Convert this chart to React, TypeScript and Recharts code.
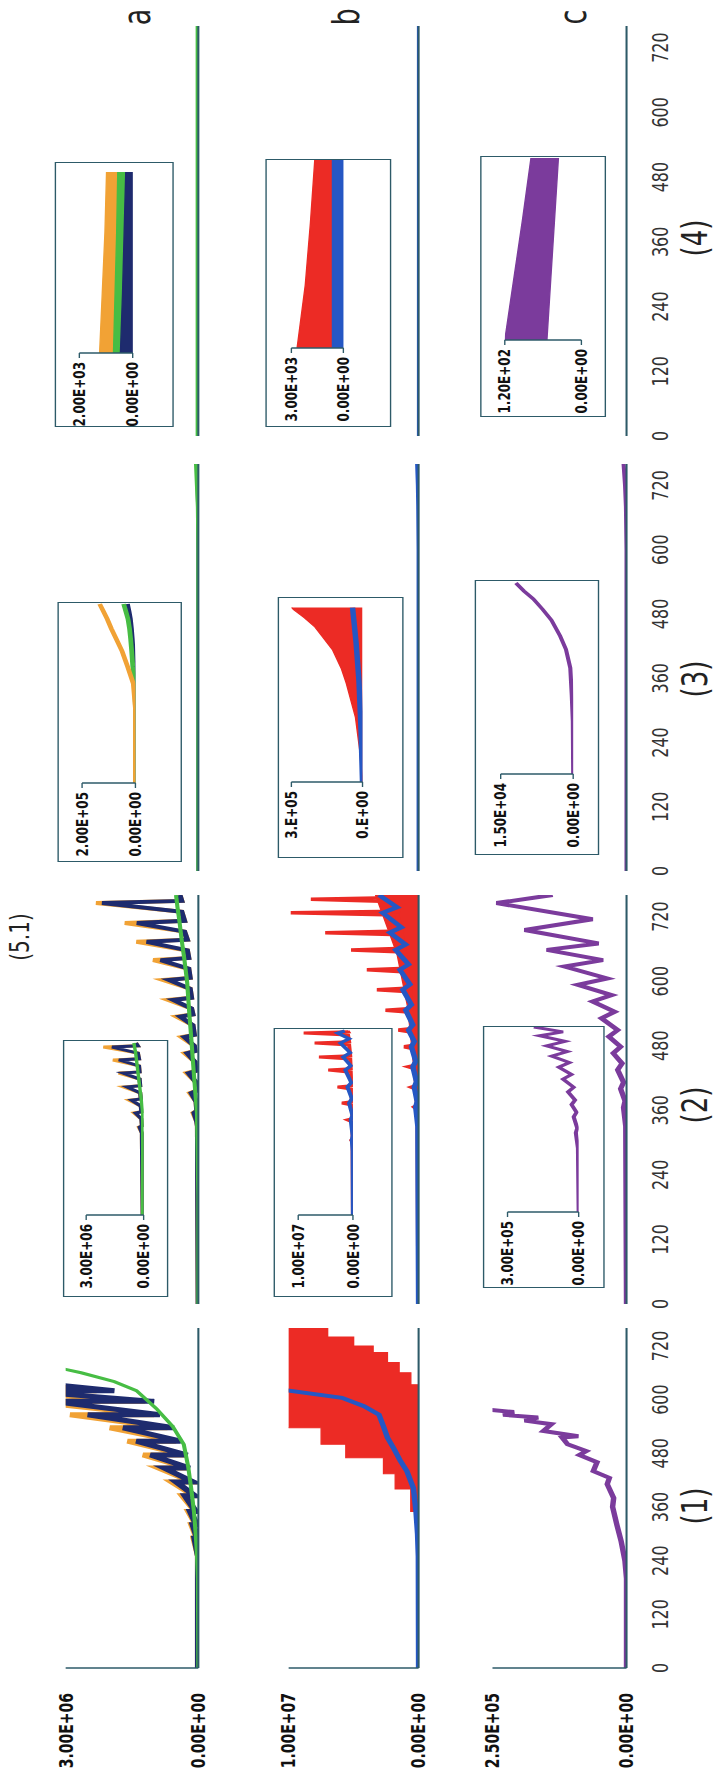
import React from "react";
import { ComposedChart, Line, Area, XAxis, YAxis } from "recharts";

const FONT = "DejaVu Sans, sans-serif";
const AXIS = "#2d5a68";
const GREEN = "#47bd44";
const ORANGE = "#f1a235";
const NAVY = "#1e2b6e";
const RED = "#ec2b25";
const BLUE = "#2557c4";
const PURPLE = "#7b3b9c";

// the figure is laid out landscape, stretched across its short side, then turned
const STRETCH = 1.368;

const TIME_TICKS = [0, 120, 240, 360, 480, 600, 720];
const COL_LABELS = ["(1)", "(2)", "(3)", "(4)"];
const ROW_LABELS = ["a", "b", "c"];

// ---- column (1), main panels only ----
const c1aT = [0, 250, 290, 290, 320, 320, 350, 350, 385, 385, 416, 416, 447, 447, 476, 476, 507, 507, 537, 537, 566, 566, 596, 596, 620, 620, 650, 650, 680];
const c1aNavy = [0, 0, 0.08, 0.02, 0.12, 0.04, 0.18, 0.06, 0.3, 0.08, 0.5, 0.12, 0.77, 0.2, 1.08, 0.25, 1.4, 0.4, 1.7, 0.56, 2.5, 0.87, 3.3, 1.0, 4.0, 1.9, 5.0, 3.2, 6.0];
const c1aOrange = [0, 0, 0.1, 0.03, 0.15, 0.05, 0.22, 0.07, 0.36, 0.1, 0.6, 0.15, 0.9, 0.25, 1.25, 0.3, 1.6, 0.5, 2.0, 0.7, 2.9, 1.0, 3.8, 1.2, 4.6, 2.3, 5.5, 3.6, 6.5];
const c1aGT = [0, 200, 250, 300, 350, 400, 450, 500, 540, 580, 620, 640, 660, 680, 700];
const c1aGreen = [0, 0.01, 0.03, 0.06, 0.1, 0.16, 0.23, 0.33, 0.58, 0.95, 1.4, 1.9, 2.65, 3.6, 4.6];

const c1bT = [0, 250, 300, 350, 400, 434, 470, 500, 537, 570, 600, 633, 660, 683, 705, 720, 740, 760];
const c1bRedLo = [0, 0, 0, 0, 0, 0, 0, 0, 0, 0, 0.05, 0.6, 1.5, 2.4, 3.5, 5, 7, 9];
const c1bRedHi = [0, 0.05, 0.2, 0.6, 1.8, 2.7, 5.6, 7.5, 10.2, 12, 13, 14, 15, 16, 17, 18, 19, 20];
const c1bBT = [0, 250, 300, 350, 402, 440, 463, 490, 515, 540, 566, 585, 604, 622, 640];
const c1bBlue = [0, 0.02, 0.08, 0.2, 0.4, 0.9, 1.4, 1.9, 2.4, 2.7, 3.05, 4.2, 5.9, 10.5, 14];

const c1cT = [0, 200, 240, 283, 320, 360, 380, 411, 425, 440, 460, 476, 485, 500, 515, 518, 530, 545, 553, 560, 566, 572, 580];
const c1cPurple = [0, 0, 0.3, 1, 1.8, 2.6, 2.4, 3.6, 3.2, 6.2, 5.5, 8.8, 7.5, 11, 12, 9, 15.5, 14, 19, 16.5, 23, 21, 28];

// ---- column (2), main ----
const c2aT = [0, 330, 339, 355, 359, 376, 392, 396, 413, 429, 433, 450, 466, 470, 480, 496, 500, 518, 534, 538, 549, 565, 569, 586, 602, 606, 623, 639, 643, 657, 673, 677, 692, 708, 712, 729, 745, 749, 760];
const c2aNavy = [0, 0.15, 0.3, 0.9, 0.3, 0.45, 1.5, 0.45, 0.6, 2.1, 0.6, 0.75, 2.4, 0.75, 0.9, 3, 0.9, 1.2, 3.9, 1.2, 1.5, 5.4, 1.5, 1.8, 6.3, 1.8, 2.1, 8.1, 2.1, 2.4, 11.1, 2.4, 3, 13.2, 3, 3.6, 20.7, 3.6, 4];
const c2aOrange = [0, 0.15, 0.3, 1.1, 0.3, 0.45, 1.8, 0.45, 0.6, 2.5, 0.6, 0.75, 2.9, 0.75, 0.9, 3.6, 0.9, 1.2, 4.7, 1.2, 1.5, 6.5, 1.5, 1.8, 7.6, 1.8, 2.1, 9.7, 2.1, 2.4, 13.3, 2.4, 3, 15.8, 3, 3.6, 22, 3.6, 4];
const c2aGT = [0, 200, 355, 420, 491, 540, 597, 640, 677, 710, 738, 760];
const c2aGreen = [0, 0, 0.3, 0.9, 1.5, 1.95, 2.4, 3, 3.6, 4.05, 4.5, 4.8];

const c2bT = [0, 330, 362, 366, 369, 399, 403, 406, 437, 441, 444, 474, 478, 481, 505, 509, 512, 542, 546, 549, 580, 584, 587, 617, 621, 624, 654, 658, 661, 686, 690, 693, 723, 727, 730, 748, 752, 755, 760];
const c2bRed = [0, 0.2, 0.4, 1.2, 0.4, 0.6, 2, 0.6, 0.8, 2.8, 0.8, 1.2, 4, 1.2, 1.6, 5.6, 1.6, 2, 9.2, 2, 2.4, 11.6, 2.4, 3.2, 14.4, 3.2, 4, 18.8, 4, 4.8, 26, 4.8, 6, 35.6, 6, 8, 30, 8, 9];
const c2bBT = [0, 330, 366, 376, 403, 413, 441, 451, 478, 488, 509, 519, 546, 556, 584, 594, 621, 631, 658, 668, 690, 700, 727, 737, 760];
const c2bBlue = [0, 0.2, 0.8, 0.4, 1.2, 0.6, 1.6, 0.8, 2, 1.2, 2.8, 1.6, 3.6, 2, 4.4, 2.4, 5.2, 2.8, 6.4, 3.6, 8, 4.8, 10, 6, 11];
const c2bFT = [0, 330, 450, 550, 650, 760];
const c2bFill = [0, 0.3, 1.5, 3, 6, 12];

const c2cT = [0, 330, 365, 377, 400, 412, 435, 447, 466, 478, 497, 509, 531, 543, 562, 574, 593, 605, 627, 639, 658, 670, 695, 715, 745, 760];
const c2cPurple = [0, 2.5, 10, 5, 20, 10, 30, 15, 45, 20, 60, 30, 85, 40, 115, 50, 165, 65, 210, 80, 270, 95, 345, 115, 440, 250];

// ---- columns (3) and (4), main: all near zero ----
const c3T = [0, 600, 680, 720, 760];
const c3aGreen = [0, 0, 0.1, 0.3, 0.5];
const c3aNavy = [0, 0, 0.05, 0.15, 0.3];
const c3bBlue = [0, 0, 0.1, 0.2, 0.4];
const c3cPurple = [0, 0, 2, 5, 10];
const c4T = [0, 760];
const c4Zero = [0, 0];

// ---- insets, column (2) ----
const c2iaT = [0, 320, 343, 368, 373, 402, 427, 432, 456, 481, 486, 511, 536, 541, 569, 594, 599, 624, 649, 654, 678, 703, 708, 720];
const c2iaNavy = [0.05, 0.09, 0.09, 0.21, 0.09, 0.12, 0.42, 0.12, 0.15, 0.63, 0.15, 0.18, 0.87, 0.18, 0.21, 1.08, 0.21, 0.24, 1.29, 0.24, 0.3, 1.65, 0.3, 0.4];
const c2iaOrange = [0.05, 0.09, 0.09, 0.25, 0.09, 0.12, 0.5, 0.12, 0.15, 0.76, 0.15, 0.18, 1.05, 0.18, 0.21, 1.3, 0.21, 0.24, 1.6, 0.24, 0.3, 2.1, 0.3, 0.4];
const c2iaGT = [0, 427, 500, 560, 620, 680, 720];
const c2iaGreen = [0.05, 0.05, 0.15, 0.24, 0.33, 0.42, 0.51];

const c2ibT = [0, 250, 285, 293, 298, 364, 372, 377, 430, 438, 443, 493, 501, 506, 559, 567, 572, 610, 618, 623, 665, 673, 678, 704, 712, 717, 720];
const c2ibRed = [0, 0.05, 0.05, 0.3, 0.05, 0.1, 1, 0.1, 0.2, 2, 0.2, 0.3, 2.8, 0.3, 0.4, 4.5, 0.4, 0.5, 6.2, 0.5, 0.7, 7, 0.7, 0.9, 9, 0.9, 1];
const c2ibBT = [0, 250, 293, 310, 372, 390, 438, 455, 501, 518, 567, 584, 618, 635, 673, 690, 712, 720];
const c2ibBlue = [0, 0.05, 0.2, 0.05, 0.4, 0.1, 0.7, 0.2, 1, 0.3, 1.4, 0.4, 1.8, 0.5, 2.3, 0.7, 2.8, 1.5];

const c2icT = [0, 250, 310, 328, 372, 390, 420, 438, 470, 488, 520, 538, 567, 585, 610, 628, 650, 668, 690, 705, 724];
const c2icPurple = [0, 3, 12, 6, 21, 9, 30, 15, 45, 21, 66, 30, 84, 39, 114, 48, 135, 57, 165, 66, 189];

// ---- insets, column (3) ----
const c3iaT = [0, 300, 400, 470, 530, 580, 620, 660, 690, 720];
const c3iaOrange = [0, 0, 8, 30, 50, 72, 90, 106, 120, 134];
const c3iaGreen = [0, 0, 2, 10, 14, 18, 22, 28, 36, 44];
const c3iaNavy = [0, 0, 1, 6, 9, 12, 15, 19, 24, 30];

const c3ibT = [0, 127, 257, 392, 450, 522, 570, 613, 650, 680, 690];
const c3ibRed = [0, 12, 30, 69, 90, 126, 165, 201, 246, 288, 300];
const c3ibBT = [0, 200, 400, 550, 690];
const c3ibBlue = [0, 6, 15, 27, 42];

const c3icT = [0, 200, 300, 400, 470, 520, 580, 620, 660, 690, 720];
const c3icPurple = [0, 0.075, 0.3, 0.6, 1.5, 2.7, 4.5, 6.3, 8.25, 10.2, 11.85];

// ---- insets, column (4): oscillating bands (low / high) ----
const c4iT = [0, 240, 480, 720];
const c4iaOrangeLo = [720, 660, 600, 560];
const c4iaOrangeHi = [1240, 1140, 1040, 980];
const c4iaGreenLo = [460, 380, 320, 260];
const c4iaGreenHi = [720, 660, 600, 560];
const c4iaNavyLo = [0, 0, 0, 0];
const c4iaNavyHi = [460, 380, 320, 260];
const c4ibRedLo = [600, 620, 630, 630];
const c4ibRedHi = [2670, 2200, 1900, 1650];
const c4ibBlueLo = [0, 0, 0, 0];
const c4ibBlueHi = [630, 630, 630, 630];
const c4icPurpleLo = [54, 48, 42, 36];
const c4icPurpleHi = [120, 106, 92, 79];

const pts = (t: number[], v: number[], k: number) => t.map((x, i) => ({ t: x, v: v[i] * k }));
const rng = (t: number[], lo: number[], hi: number[], k: number) =>
  t.map((x, i) => ({ t: x, v: [lo[i] * k, hi[i] * k] }));

type Ser = { data: any[]; color: string; width: number; kind: "line" | "area"; step?: boolean };
const line = (data: any[], color: string, width = 3): Ser => ({ data, color, width, kind: "line" });
const area = (data: any[], color: string, step = false): Ser => ({ data, color, width: 1, kind: "area", step });

const M = 1e6;
const K = 1e3;

const MAIN_SERIES: Ser[][][] = [
  [
    [line(pts(c1aT, c1aOrange, M), ORANGE, 5), line(pts(c1aT, c1aNavy, M), NAVY, 5), line(pts(c1aGT, c1aGreen, M), GREEN, 3)],
    [area(rng(c1bT, c1bRedLo, c1bRedHi, M), RED, true), line(pts(c1bBT, c1bBlue, M), BLUE, 4)],
    [line(pts(c1cT, c1cPurple, 1e4), PURPLE, 4)],
  ],
  [
    [line(pts(c2aT, c2aOrange, M), ORANGE, 4), line(pts(c2aT, c2aNavy, M), NAVY, 4), line(pts(c2aGT, c2aGreen, M), GREEN, 3)],
    [area(pts(c2bFT, c2bFill, M), RED), line(pts(c2bT, c2bRed, M), RED, 3.5), line(pts(c2bBT, c2bBlue, M), BLUE, 4)],
    [line(pts(c2cT, c2cPurple, K), PURPLE, 4)],
  ],
  [
    [line(pts(c3T, c3aNavy, M), NAVY, 3), line(pts(c3T, c3aGreen, M), GREEN, 3)],
    [line(pts(c3T, c3bBlue, M), BLUE, 3)],
    [line(pts(c3T, c3cPurple, K), PURPLE, 3)],
  ],
  [
    [line(pts(c4T, c4Zero, M), GREEN, 4)],
    [line(pts(c4T, c4Zero, M), BLUE, 2.5)],
    [],
  ],
];

const INSET_SERIES: Ser[][][] = [
  [
    [line(pts(c2iaT, c2iaOrange, M), ORANGE, 3), line(pts(c2iaT, c2iaNavy, M), NAVY, 3), line(pts(c2iaGT, c2iaGreen, M), GREEN, 2.5)],
    [line(pts(c2ibT, c2ibRed, M), RED, 3), line(pts(c2ibBT, c2ibBlue, M), BLUE, 3)],
    [line(pts(c2icT, c2icPurple, K), PURPLE, 3)],
  ],
  [
    [line(pts(c3iaT, c3iaNavy, K), NAVY, 3.5), line(pts(c3iaT, c3iaGreen, K), GREEN, 3.5), line(pts(c3iaT, c3iaOrange, K), ORANGE, 3.5)],
    [area(pts(c3ibT, c3ibRed, K), RED), line(pts(c3ibBT, c3ibBlue, K), BLUE, 4)],
    [line(pts(c3icT, c3icPurple, K), PURPLE, 3)],
  ],
  [
    [area(rng(c4iT, c4iaOrangeLo, c4iaOrangeHi, 1), ORANGE), area(rng(c4iT, c4iaGreenLo, c4iaGreenHi, 1), GREEN), area(rng(c4iT, c4iaNavyLo, c4iaNavyHi, 1), NAVY)],
    [area(rng(c4iT, c4ibRedLo, c4ibRedHi, 1), RED), area(rng(c4iT, c4ibBlueLo, c4ibBlueHi, 1), BLUE)],
    [area(rng(c4iT, c4icPurpleLo, c4icPurpleHi, 1), PURPLE)],
  ],
];

// axis ranges / labels
const MAIN1_MAX = [3e6, 1e7, 2.5e5];
const MAIN1_LABELS = [["0.00E+00", "3.00E+06"], ["0.00E+00", "1.00E+07"], ["0.00E+00", "2.50E+05"]];
const MAIN_MAX = [3e7, 4e7, 5e5];
const MAIN_TICKS = [[0, 1e7, 2e7, 3e7], [0, 1e7, 2e7, 3e7, 4e7], [0, 1e5, 2e5, 3e5, 4e5, 5e5]];
const INSET_MAX = [[3e6, 1e7, 3e5], [2e5, 3e5, 1.5e4], [2e3, 3e3, 120]];
const INSET_LABELS = [
  [["0.00E+00", "3.00E+06"], ["0.00E+00", "1.00E+07"], ["0.00E+00", "3.00E+05"]],
  [["0.00E+00", "2.00E+05"], ["0.E+00", "3.E+05"], ["0.00E+00", "1.50E+04"]],
  [["0.00E+00", "2.00E+03"], ["0.00E+00", "3.00E+03"], ["0.00E+00", "1.20E+02"]],
];

// geometry (unrotated, unstretched landscape coordinates)
const COLS = [
  { x0: 108, x1: 448 },
  { x0: 472, x1: 881 },
  { x0: 905, x1: 1312 },
  { x0: 1340, x1: 1750 },
];
const ROWS1 = [[48, 145], [211, 306], [360, 458]];
const ROWS = [[43, 145], [201, 306], [350, 458]];
// box x0, x1, y0, y1, axis x, data end x, top y, zero y
const INSET_BOX = [
  [[479, 736, 46, 123, 561, 733, 63, 105], [479, 748, 200, 287, 561, 745, 218, 258], [488, 750, 353, 442, 564, 749, 371, 423]],
  [[914, 1174, 42, 133, 993, 1172, 60, 99], [918, 1179, 203, 295, 994, 1176, 213, 265], [921, 1196, 347, 438, 1002, 1193, 366, 419]],
  [[1349, 1614, 40, 127, 1423, 1604, 58, 97], [1349, 1617, 194, 286, 1428, 1616, 213, 251], [1359, 1620, 351, 443, 1436, 1618, 369, 425]],
];
const COL_LABEL_X = [270, 671, 1097, 1538];
const ROW_LABEL_Y = [100, 253, 419];

// value tick drawn as plain svg text, centred on the tick
const valueTick = (labels: string[], size: number) => (p: any) => (
  <text
    x={p.x}
    y={p.y}
    textAnchor="end"
    dominantBaseline="central"
    fontSize={size}
    fontWeight={700}
    fontFamily={FONT}
    fill="#111"
  >
    {p.payload.value === 0 ? labels[0] : labels[1]}
  </text>
);

const renderSeries = (list: Ser[]) =>
  list.map((s, i) =>
    s.kind === "area" ? (
      <Area
        key={i}
        data={s.data}
        dataKey="v"
        type={s.step ? "stepAfter" : "linear"}
        fill={s.color}
        fillOpacity={1}
        stroke={s.color}
        strokeWidth={s.width}
        dot={false}
        activeDot={false}
        isAnimationActive={false}
      />
    ) : (
      <Line
        key={i}
        data={s.data}
        dataKey="v"
        type="linear"
        stroke={s.color}
        strokeWidth={s.width}
        dot={false}
        activeDot={false}
        isAnimationActive={false}
      />
    )
  );

function MainPanel({ col, row }: { col: number; row: number }) {
  const first = col === 0;
  const { x0, x1 } = COLS[col];
  const [y0, y1] = first ? ROWS1[row] : ROWS[row];
  const time = row === 2;
  const mt = 12;
  const xh = time ? 40 : 12;
  const left = first ? 0 : x0 - 20;
  const max = first ? MAIN1_MAX[row] : MAIN_MAX[row];
  return (
    <div style={{ position: "absolute", left, top: y0 - mt }}>
      <ComposedChart
        width={x1 - left}
        height={mt + (y1 - y0) + xh}
        margin={{ top: mt, right: 0, bottom: 0, left: first ? 0 : 20 }}
      >
        <XAxis
          dataKey="t"
          type="number"
          domain={[0, 760]}
          ticks={TIME_TICKS}
          interval={0}
          allowDataOverflow
          height={xh}
          stroke={AXIS}
          axisLine={{ strokeWidth: 1.5 }}
          tickLine={false}
          tickSize={0}
          tickMargin={19}
          tick={time ? { fontSize: 16, fontFamily: FONT, fill: "#333" } : false}
        />
        {first ? (
          <YAxis
            type="number"
            domain={[0, max]}
            ticks={[0, max]}
            interval={0}
            allowDataOverflow
            width={x0}
            stroke={AXIS}
            axisLine={{ strokeWidth: 1.5 }}
            tickLine={false}
            tickSize={0}
            tickMargin={25}
            tick={valueTick(MAIN1_LABELS[row], 14)}
          />
        ) : (
          <YAxis
            type="number"
            domain={[0, max]}
            ticks={MAIN_TICKS[row]}
            interval={0}
            allowDataOverflow
            mirror
            width={0}
            stroke={AXIS}
            axisLine={{ strokeWidth: 1.5 }}
            tickSize={5}
            tick={false}
          />
        )}
        {renderSeries(MAIN_SERIES[col][row])}
      </ComposedChart>
    </div>
  );
}

function InsetPanel({ col, row }: { col: number; row: number }) {
  const [bx0, bx1, by0, by1, xa, xe, yt, yb] = INSET_BOX[col][row];
  const max = INSET_MAX[col][row];
  const w = bx1 - bx0;
  const h = by1 - by0;
  return (
    <div style={{ position: "absolute", left: bx0, top: by0, width: w, height: h, background: "#fff" }}>
      <ComposedChart width={w} height={h} margin={{ top: yt - by0, right: bx1 - xe, bottom: by1 - yb, left: 0 }}>
        <XAxis dataKey="t" type="number" domain={[0, 720]} height={0} tick={false} tickLine={false} stroke={AXIS} />
        <YAxis
          type="number"
          domain={[0, max]}
          ticks={[0, max]}
          interval={0}
          allowDataOverflow
          width={xa - bx0}
          stroke={AXIS}
          axisLine={{ strokeWidth: 1.5 }}
          tickSize={5}
          tickMargin={4}
          tick={valueTick(INSET_LABELS[col][row], 12)}
        />
        {renderSeries(INSET_SERIES[col][row])}
      </ComposedChart>
      <div
        style={{
          position: "absolute",
          left: 0,
          top: 0,
          width: w,
          height: h,
          boxSizing: "border-box",
          border: `1.5px solid ${AXIS}`,
          pointerEvents: "none",
        }}
      />
    </div>
  );
}

const Label = ({ x, y, size, text }: { x: number; y: number; size: number; text: string }) => (
  <div
    style={{
      position: "absolute",
      left: x,
      top: y,
      transform: "translate(-50%, -50%)",
      fontSize: size,
      lineHeight: 1,
      whiteSpace: "nowrap",
      color: "#222",
      fontFamily: FONT,
    }}
  >
    {text}
  </div>
);

export default function App() {
  return (
    <div style={{ position: "absolute", left: 0, top: 0, width: 715, height: 1776, overflow: "hidden", background: "#fff" }}>
      <div
        style={{
          position: "absolute",
          left: 0,
          top: 0,
          width: 1776,
          height: Math.round(715 / STRETCH),
          transformOrigin: "0 0",
          transform: `translateY(1776px) rotate(-90deg) scale(1, ${STRETCH})`,
        }}
      >
        {COLS.map((_, c) => [0, 1, 2].map((r) => <MainPanel key={`m${c}${r}`} col={c} row={r} />))}
        {[0, 1, 2].map((c) => [0, 1, 2].map((r) => <InsetPanel key={`i${c}${r}`} col={c} row={r} />))}
        <Label x={839} y={14} size={20} text="(5.1)" />
        {COL_LABELS.map((t, i) => (
          <Label key={t} x={COL_LABEL_X[i]} y={508} size={26} text={t} />
        ))}
        {ROW_LABELS.map((t, i) => (
          <Label key={t} x={1759} y={ROW_LABEL_Y[i]} size={27} text={t} />
        ))}
      </div>
    </div>
  );
}
